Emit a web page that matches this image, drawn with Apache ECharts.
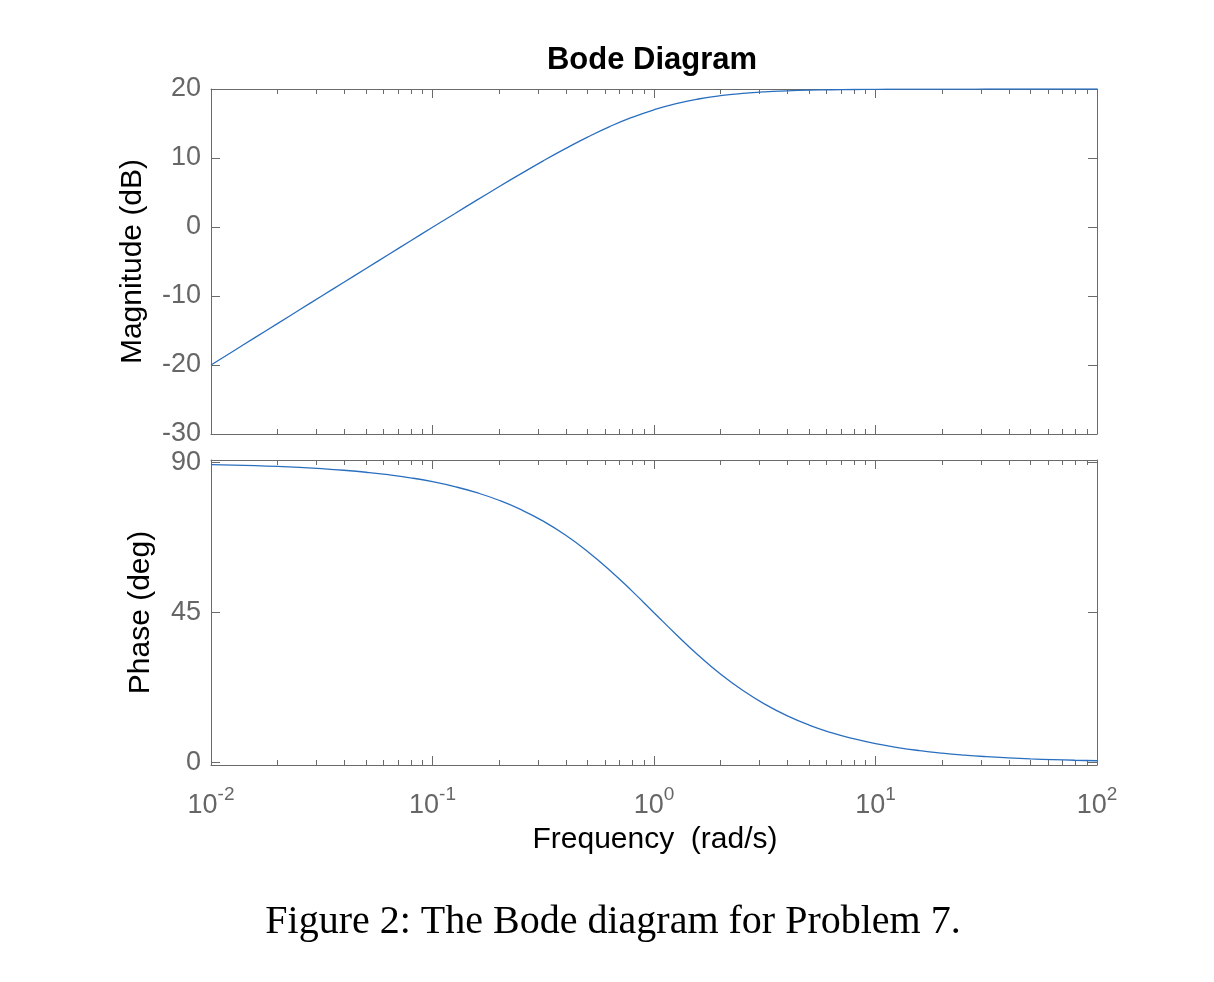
<!DOCTYPE html>
<html>
<head>
<meta charset="utf-8">
<script src="https://cdn.jsdelivr.net/npm/echarts@6/dist/echarts.min.js"></script>
<style>
  html, body { margin: 0; padding: 0; background: #fff; }
  #chart { width: 1214px; height: 982px; }
</style>
</head>
<body>
<div id="chart"></div>
<script>
// frequencies (rad/s), 10 points per decade
const freq = [
  0.01, 0.01259, 0.01585, 0.01995, 0.02512, 0.03162, 0.03981, 0.05012, 0.0631, 0.07943,
  0.1, 0.1259, 0.1585, 0.1995, 0.2512, 0.3162, 0.3981, 0.5012, 0.631, 0.7943,
  1, 1.259, 1.585, 1.995, 2.512, 3.162, 3.981, 5.012, 6.31, 7.943,
  10, 12.59, 15.85, 19.95, 25.12, 31.62, 39.81, 50.12, 63.1, 79.43, 100
]
// magnitude (dB)
const magnitude = [
  -20.0, -18.0, -16.0, -14.0, -12.0, -10.0, -8.01, -6.01, -4.02, -2.03,
  -0.04, 1.93, 3.89, 5.83, 7.73, 9.59, 11.36, 13.03, 14.55, 15.88,
  16.99, 17.88, 18.55, 19.03, 19.36, 19.59, 19.73, 19.83, 19.89, 19.93,
  19.96, 19.97, 19.98, 19.99, 19.99, 20.0, 20.0, 20.0, 20.0, 20.0, 20.0
]
// phase (deg)
const phase = [
  89.43, 89.28, 89.09, 88.86, 88.56, 88.19, 87.72, 87.13, 86.39, 85.46,
  84.29, 82.82, 80.99, 78.72, 75.9, 72.45, 68.3, 63.38, 57.75, 51.54,
  45.0, 38.46, 32.25, 26.62, 21.7, 17.55, 14.1, 11.28, 9.01, 7.18,
  5.71, 4.54, 3.61, 2.87, 2.28, 1.81, 1.44, 1.14, 0.91, 0.72, 0.57
]
const decadeTicks = [-2, -1, 0, 1, 2]
const magTicks = [-30, -20, -10, 0, 10, 20]
const phaseTicks = [0, 45, 90]

// minor log ticks at 2..9 x 10^n
const minorTicks = []
for (let d = -2; d < 2; d++) {
  for (let k = 2; k <= 9; k++) minorTicks.push(d + Math.log10(k))
}

const axisGray = '#6a6a6a'
const labelGray = '#666'
const font = '"Liberation Sans", Arial, sans-serif'

function toXY(ys) {
  return freq.map((f, i) => [Math.log10(f), ys[i]])
}

function xAxes(gridIndex, showLabels) {
  const base = {
    type: 'value', gridIndex: gridIndex, min: -2, max: 2,
    splitLine: { show: false }
  }
  return [
    {
      ...base, position: 'bottom',
      axisLine: { show: true, onZero: false, lineStyle: { color: axisGray, width: 1 } },
      axisTick: { show: true, inside: true, length: 9, customValues: decadeTicks, lineStyle: { color: axisGray } },
      axisLabel: {
        show: showLabels, customValues: decadeTicks, margin: 20,
        formatter: v => '{b|10}{s|' + v + '}',
        rich: {
          b: { fontSize: 27, color: labelGray, fontFamily: font },
          s: { fontSize: 19, color: labelGray, fontFamily: font, padding: [0, 0, 22, 0] }
        }
      }
    },
    {
      ...base, position: 'top',
      axisLine: { show: true, onZero: false, lineStyle: { color: axisGray, width: 1 } },
      axisTick: { show: true, inside: true, length: 9, customValues: decadeTicks, lineStyle: { color: axisGray } },
      axisLabel: { show: false }
    },
    {
      ...base, position: 'bottom',
      axisLine: { show: false, onZero: false },
      axisTick: { show: true, inside: true, length: 5, customValues: minorTicks, lineStyle: { color: axisGray } },
      axisLabel: { show: false }
    },
    {
      ...base, position: 'top',
      axisLine: { show: false, onZero: false },
      axisTick: { show: true, inside: true, length: 5, customValues: minorTicks, lineStyle: { color: axisGray } },
      axisLabel: { show: false }
    }
  ]
}

function yAxes(gridIndex, min, max, ticks, name, nameGap) {
  const base = {
    type: 'value', gridIndex: gridIndex, min: min, max: max,
    splitLine: { show: false },
    axisLine: { show: true, onZero: false, lineStyle: { color: axisGray, width: 1 } },
    axisTick: { show: true, inside: true, length: 9, customValues: ticks, lineStyle: { color: axisGray } }
  }
  return [
    {
      ...base, position: 'left',
      name: name, nameLocation: 'middle', nameGap: nameGap, nameRotate: 90,
      nameTextStyle: { color: '#000', fontSize: 30, fontFamily: font },
      axisLabel: { show: true, customValues: ticks, margin: 10, color: labelGray, fontSize: 27, fontFamily: font }
    },
    { ...base, position: 'right', axisLabel: { show: false } }
  ]
}

const chart = echarts.init(document.getElementById('chart'), null, { renderer: 'canvas' })

chart.setOption({
  backgroundColor: '#fff',
  animation: false,
  title: [
    {
      text: 'Bode Diagram', left: 647, top: 40, textAlign: 'center',
      textStyle: { fontSize: 31, fontWeight: 'bold', color: '#000', fontFamily: font }
    },
    {
      text: 'Frequency  (rad/s)', left: 650, top: 820, textAlign: 'center',
      textStyle: { fontSize: 30, fontWeight: 'normal', color: '#000', fontFamily: font }
    },
    {
      text: 'Figure 2: The Bode diagram for Problem 7.', left: 608, top: 897, textAlign: 'center',
      textStyle: { fontSize: 40, fontWeight: 'normal', color: '#000', fontFamily: '"Liberation Serif", "DejaVu Serif", serif' }
    }
  ],
  grid: [
    { left: 211, top: 89, width: 886, height: 345 },
    { left: 211, top: 460, width: 886, height: 305 }
  ],
  xAxis: [...xAxes(0, false), ...xAxes(1, true)],
  yAxis: [
    ...yAxes(0, -30, 20, magTicks, 'Magnitude (dB)', 63),
    ...yAxes(1, -0.7, 90.8, phaseTicks, 'Phase (deg)', 55)
  ],
  series: [
    {
      type: 'line', xAxisIndex: 0, yAxisIndex: 0, data: toXY(magnitude),
      showSymbol: false, smooth: true, lineStyle: { color: '#2a6fbf', width: 1.3 }
    },
    {
      type: 'line', xAxisIndex: 4, yAxisIndex: 2, data: toXY(phase),
      showSymbol: false, smooth: true, lineStyle: { color: '#2a6fbf', width: 1.3 }
    }
  ]
})
</script>
</body>
</html>
